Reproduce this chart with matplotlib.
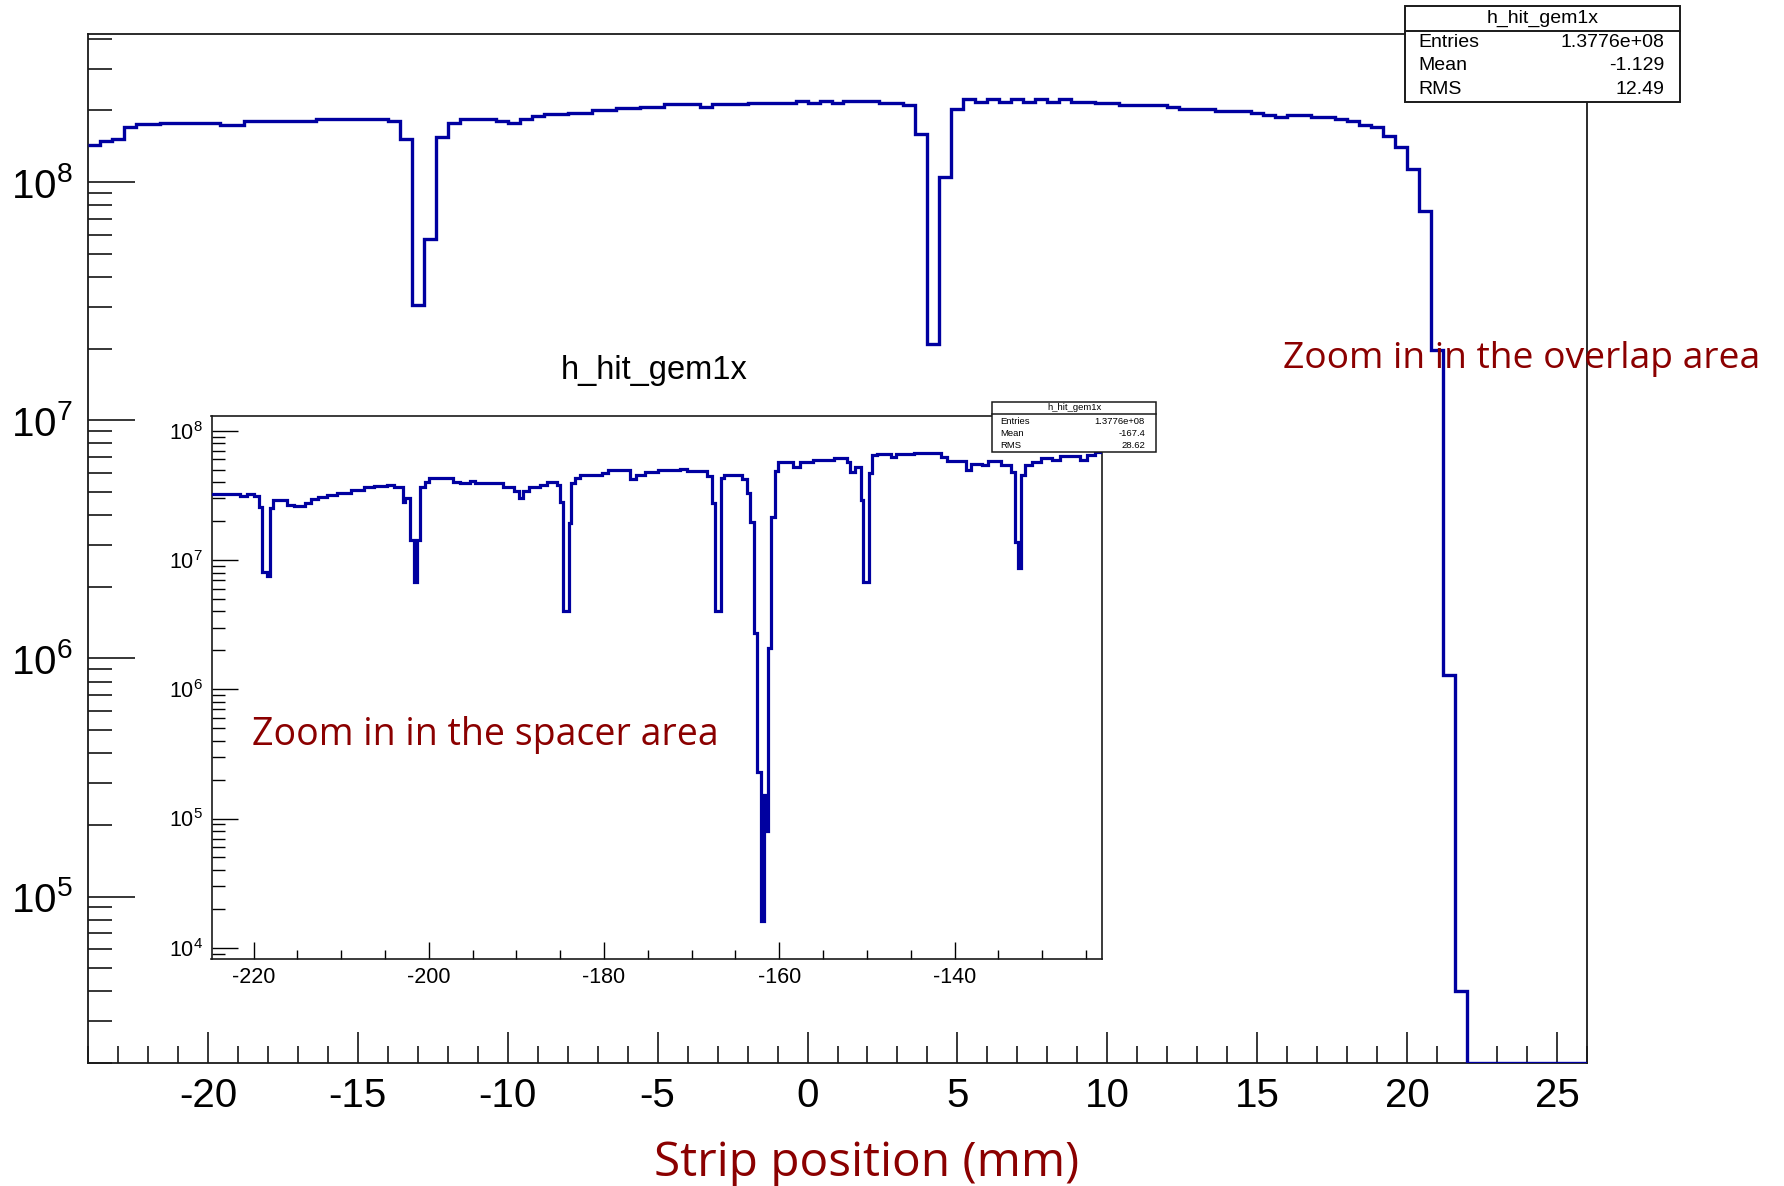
import numpy as np
import matplotlib
matplotlib.use('Agg')
import matplotlib.pyplot as plt
from matplotlib.ticker import (LogLocator, MultipleLocator, NullFormatter,
                               LogFormatterSciNotation)
from matplotlib.patches import Rectangle
from matplotlib.lines import Line2D

plt.rcParams['font.family'] = ['Liberation Sans', 'DejaVu Sans']
plt.rcParams['mathtext.fontset'] = 'custom'
plt.rcParams['mathtext.rm'] = 'Liberation Sans'
plt.rcParams['mathtext.it'] = 'Liberation Sans:italic'
plt.rcParams['mathtext.bf'] = 'Liberation Sans:bold'
plt.rcParams['axes.unicode_minus'] = False

# ---------------- data ----------------
# main histogram: 0.4 mm bins starting at -24 mm
main_xmin = -24.0
main_bin_width = 0.4
main_counts = [
    1.43e8, 1.49e8, 1.52e8, 1.71e8, 1.75e8, 1.75e8,
    1.78e8, 1.78e8, 1.78e8, 1.78e8, 1.78e8,
    1.74e8, 1.74e8,
    1.80e8, 1.80e8, 1.80e8, 1.80e8, 1.80e8, 1.80e8,
    1.84e8, 1.84e8, 1.84e8, 1.84e8, 1.84e8, 1.84e8,
    1.80e8, 1.52e8, 3.04e7, 5.76e7, 1.55e8, 1.77e8,
    1.84e8, 1.84e8, 1.84e8,
    1.80e8, 1.77e8, 1.85e8, 1.89e8,
    1.93e8, 1.93e8, 1.96e8, 1.96e8,
    2.01e8, 2.01e8, 2.04e8, 2.04e8, 2.07e8, 2.07e8,
    2.13e8, 2.13e8, 2.13e8, 2.07e8, 2.12e8, 2.12e8, 2.12e8,
    2.15e8, 2.15e8, 2.15e8, 2.15e8,
    2.20e8, 2.14e8, 2.20e8, 2.14e8,
    2.20e8, 2.20e8, 2.20e8, 2.15e8, 2.15e8,
    2.11e8, 1.60e8, 2.09e7, 1.05e8, 2.03e8,
    2.23e8, 2.18e8, 2.23e8, 2.18e8, 2.23e8, 2.18e8, 2.23e8, 2.18e8, 2.23e8,
    2.18e8, 2.18e8, 2.14e8, 2.14e8,
    2.11e8, 2.11e8, 2.11e8, 2.11e8,
    2.06e8, 2.02e8, 2.02e8, 2.02e8, 1.99e8, 1.99e8, 1.99e8,
    1.95e8, 1.91e8, 1.87e8, 1.92e8, 1.92e8, 1.88e8, 1.88e8,
    1.85e8, 1.80e8, 1.73e8, 1.70e8, 1.57e8, 1.40e8, 1.14e8, 7.55e7, 1.97e7,
    8.5e5, 4.0e4,
    0, 0, 0, 0, 0, 0, 0, 0, 0, 0,
]
main_edges = main_xmin + main_bin_width * np.arange(len(main_counts) + 1)

# inset histogram (spacer area), read as steps: edges and contents
inset_edges = [
    -224.8, -221.5, -220.7, -220.0, -219.4, -219.0, -218.5, -218.1, -217.8,
    -216.2, -215.4, -214.1, -213.5, -212.7, -211.6, -210.5, -208.9, -207.4,
    -206.3, -204.8, -204.0, -203.0, -202.7, -202.1, -201.7, -201.3, -201.0,
    -200.4, -200.0, -197.2, -196.4, -195.3, -194.7, -191.5, -190.3, -189.7,
    -189.2, -188.6, -187.3, -186.5, -185.4, -185.0, -184.7, -184.0, -183.8,
    -183.3, -182.7, -180.2, -179.5, -177.0, -176.3, -175.3, -173.8, -171.3,
    -170.5, -168.2, -167.7, -167.3, -166.7, -166.3, -164.2, -163.7, -163.3,
    -162.9, -162.5, -162.1, -161.7, -161.5, -161.3, -160.9, -160.5, -160.1,
    -158.4, -157.6, -156.1, -153.8, -152.3, -151.9, -151.3, -150.7, -150.4,
    -149.8, -149.4, -148.8, -147.3, -146.7, -144.6, -141.5, -140.8, -140.0,
    -138.7, -138.1, -136.9, -136.2, -134.7, -133.5, -133.1, -132.8, -132.4,
    -132.0, -131.2, -130.1, -128.9, -128.0, -125.7, -124.9, -124.0, -123.2,
]
inset_counts = [
    3.22e7, 3.15e7, 3.22e7, 3.10e7, 2.58e7, 8.1e6, 7.5e6, 2.51e7,
    2.91e7, 2.66e7, 2.62e7, 2.77e7, 2.97e7, 3.05e7, 3.18e7, 3.31e7, 3.48e7,
    3.65e7, 3.73e7, 3.80e7, 3.65e7, 2.83e7, 3.00e7, 1.43e7, 6.8e6, 1.43e7,
    3.70e7, 4.04e7, 4.29e7, 4.04e7, 3.92e7, 4.06e7, 3.96e7, 3.65e7, 3.44e7,
    3.00e7, 3.40e7, 3.65e7, 3.80e7, 4.00e7, 3.80e7, 2.83e7, 4.05e6, 1.92e7,
    3.92e7, 4.29e7, 4.54e7, 4.70e7, 4.97e7, 4.20e7, 4.54e7, 4.80e7, 4.97e7,
    5.06e7, 4.90e7, 4.50e7, 2.74e7, 4.0e6, 4.30e7, 4.55e7, 4.20e7, 3.28e7,
    1.98e7, 2.71e6, 2.27e5, 1.6e4, 1.52e5, 8.0e4, 2.08e6, 2.16e7, 4.85e7,
    5.75e7, 5.27e7, 5.75e7, 5.93e7, 6.10e7, 5.75e7, 4.82e7, 5.27e7, 2.91e7,
    6.8e6, 4.70e7, 6.50e7, 6.60e7, 6.30e7, 6.60e7, 6.70e7, 6.30e7, 5.80e7,
    5.80e7, 5.00e7, 5.50e7, 5.40e7, 5.80e7, 5.40e7, 4.80e7, 1.39e7, 8.6e6,
    4.55e7, 5.40e7, 5.75e7, 6.10e7, 5.90e7, 6.40e7, 5.90e7, 6.50e7, 6.88e7,
]

main_xticks_major = 5
main_xticks_minor = 1
inset_xticks_major = 20
inset_xticks_minor = 5

stats_title = 'h_hit_gem1x'
stats_labels = ['Entries', 'Mean', 'RMS']
main_stats_values = ['1.3776e+08', '-1.129', '12.49']
inset_stats_values = ['1.3776e+08', '-167.4', '28.62']

inset_title = 'h_hit_gem1x'
xlabel_text = 'Strip position (mm)'
note_overlap = 'Zoom in in the overlap area'
note_spacer = 'Zoom in in the spacer area'

# ---------------- figure ----------------
W, H, DPI = 1784, 1186, 100
fig = plt.figure(figsize=(W / DPI, H / DPI), dpi=DPI)
fig.patch.set_facecolor('white')


def fx(px):
    return px / W


def fy(py):
    return 1 - py / H


HIST_COLOR = '#0000a0'
FRAME_COLOR = '#1a1a1a'
RED = '#8b0000'

# main axes
main_ylim = (2.0e4, 4.19e8)
ax = fig.add_axes([fx(88), fy(1063), fx(1587) - fx(88), fy(34) - fy(1063)])
ax.set_yscale('log')
ax.set_xlim(main_edges[0], 26.0)
ax.set_ylim(*main_ylim)
mc = np.asarray(main_counts, dtype=float)
ax.stairs(np.where(mc > 0, mc, main_ylim[0]), main_edges, baseline=None,
          color=HIST_COLOR, lw=2.4, zorder=3)

ax.xaxis.set_major_locator(MultipleLocator(main_xticks_major))
ax.xaxis.set_minor_locator(MultipleLocator(main_xticks_minor))
ax.yaxis.set_major_locator(LogLocator(base=10, numticks=20))
ax.yaxis.set_minor_locator(LogLocator(base=10, subs=np.arange(2, 10), numticks=40))
ax.yaxis.set_major_formatter(LogFormatterSciNotation())
ax.yaxis.set_minor_formatter(NullFormatter())
ax.tick_params(which='both', direction='in', top=False, right=False,
               width=1.1, color='black', labelsize=29)
ax.tick_params(axis='x', which='major', length=22, pad=10)
ax.tick_params(axis='x', which='minor', length=12)
ax.tick_params(axis='y', which='major', length=34, pad=11)
ax.tick_params(axis='y', which='minor', length=17)
for s in ax.spines.values():
    s.set_linewidth(1.3)
    s.set_color(FRAME_COLOR)

# inset axes
inset_ylim = (8.26e3, 1.30e8)
ax2 = fig.add_axes([fx(211.5), fy(958.5), fx(1101.7) - fx(211.5), fy(416) - fy(958.5)])
ax2.set_yscale('log')
ax2.set_xlim(inset_edges[0], inset_edges[-1])
ax2.set_ylim(*inset_ylim)
ax2.stairs(inset_counts, inset_edges, baseline=None, color=HIST_COLOR, lw=2.3, zorder=3)
ax2.xaxis.set_major_locator(MultipleLocator(inset_xticks_major))
ax2.xaxis.set_minor_locator(MultipleLocator(inset_xticks_minor))
ax2.yaxis.set_major_locator(LogLocator(base=10, numticks=20))
ax2.yaxis.set_minor_locator(LogLocator(base=10, subs=np.arange(2, 10), numticks=40))
ax2.yaxis.set_major_formatter(LogFormatterSciNotation())
ax2.yaxis.set_minor_formatter(NullFormatter())
ax2.tick_params(which='both', direction='in', top=False, right=False,
                width=1.0, color='black', labelsize=15.5)
ax2.tick_params(axis='x', which='major', length=12, pad=6)
ax2.tick_params(axis='x', which='minor', length=6.3)
ax2.tick_params(axis='y', which='major', length=19, pad=6)
ax2.tick_params(axis='y', which='minor', length=9)
for s in ax2.spines.values():
    s.set_linewidth(1.2)
    s.set_color(FRAME_COLOR)

fig.text(fx(654), fy(370), inset_title, ha='center', va='center', fontsize=23.5)


# stats boxes
def stats_box(left, right, top, divider, bottom, rows_y, text_left, text_right,
              fs, lw, values):
    rect = Rectangle((fx(left), fy(bottom)), fx(right) - fx(left), fy(top) - fy(bottom),
                     transform=fig.transFigure, facecolor='white',
                     edgecolor=FRAME_COLOR, lw=lw, zorder=5)
    fig.add_artist(rect)
    fig.add_artist(Line2D([fx(left), fx(right)], [fy(divider), fy(divider)],
                          transform=fig.transFigure, color=FRAME_COLOR, lw=lw, zorder=6))
    fig.text(fx((left + right) / 2), fy((top + divider) / 2), stats_title,
             ha='center', va='center', fontsize=fs, zorder=7)
    for lab, val, yy in zip(stats_labels, values, rows_y):
        fig.text(fx(text_left), fy(yy), lab, ha='left', va='center', fontsize=fs, zorder=7)
        fig.text(fx(text_right), fy(yy), val, ha='right', va='center', fontsize=fs, zorder=7)


stats_box(1405, 1680, 6, 31, 102, [42.7, 66, 89.3], 1418, 1664, 14, 1.4,
          main_stats_values)
stats_box(992, 1156, 401.7, 414, 451.7, [421, 433.3, 445], 1000, 1145, 6.8, 1.1,
          inset_stats_values)

# annotations
fig.text(fx(1283), fy(368), note_overlap, ha='left', va='baseline', fontsize=26.8,
         family=['Open Sans', 'DejaVu Sans'], color=RED, zorder=8)
fig.text(fx(252), fy(745), note_spacer, ha='left', va='baseline', fontsize=27.0,
         family=['Open Sans', 'DejaVu Sans'], color=RED, zorder=8)
fig.text(fx(867), fy(1176), xlabel_text, ha='center', va='baseline', fontsize=34.4,
         family=['Open Sans', 'DejaVu Sans'], color=RED, zorder=8)

fig.savefig('out.png', dpi=DPI, facecolor='white')
